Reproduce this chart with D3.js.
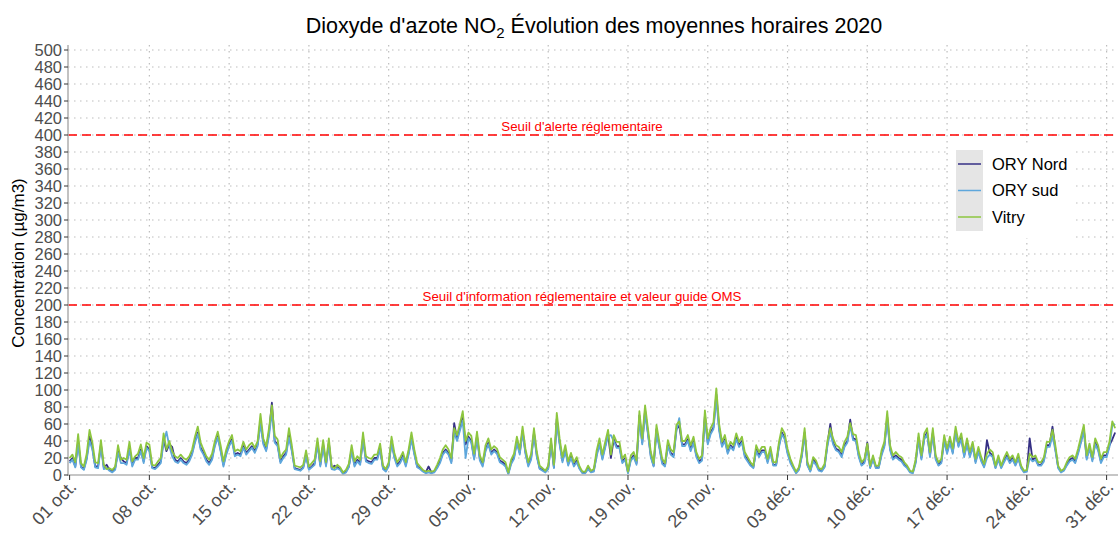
<!DOCTYPE html>
<html>
<head>
<meta charset="utf-8">
<script src="https://cdn.jsdelivr.net/npm/d3@7"></script>
<style>
  body { margin: 0; background: #fff; }
  text { font-family: "Liberation Sans", Arial, sans-serif; }
</style>
</head>
<body>
<div id="chart"></div>
<script>
// valeurs, une valeur toutes les 6 h depuis le 01/10/2020 00h
const seriesNames = ["ORY Nord", "ORY sud", "Vitry"];
const seriesColors = ["#352f84", "#5ea7dc", "#8dc63f"];
const xTickLabels = ["01 oct.", "08 oct.", "15 oct.", "22 oct.", "29 oct.", "05 nov.", "12 nov.",
                     "19 nov.", "26 nov.", "03 déc.", "10 déc.", "17 déc.", "24 déc.", "31 déc."];
const yTickValues = [0, 20, 40, 60, 80, 100, 120, 140, 160, 180, 200, 220, 240, 260, 280, 300,
                     320, 340, 360, 380, 400, 420, 440, 460, 480, 500];
const thresholdValues = [400, 200];
const thresholdLabels = ["Seuil d'alerte réglementaire",
                         "Seuil d'information réglementaire et valeur guide OMS"];

const oryNord = [
  16,20,10,40, 10,7,20,45, 32,10,10,36, 9,12,6,4, 8,28,20,16, 14,32,12,20, 20,30,16,34,
  30,9,8,12, 16,42,28,36, 33,18,16,20, 16,14,18,26, 40,50,32,26, 18,14,20,36, 46,30,12,26,
  36,42,24,26, 24,34,26,30, 34,28,36,64, 38,30,50,85, 40,36,16,22, 26,48,30,8, 7,6,9,24,
  7,10,14,38, 12,36,12,38, 8,11,9,7, 2,4,10,30, 12,18,14,44, 18,16,15,20, 20,32,8,5,
  12,40,22,12, 16,23,12,26, 44,26,10,8, 5,3,10,3, 4,9,16,26, 30,26,16,61, 42,55,68,36,
  45,40,20,46, 19,12,30,38, 26,30,27,17, 15,12,2,15, 21,40,26,52, 27,12,20,50, 23,8,6,4,
  8,38,9,66, 38,17,30,13, 22,12,17,8, 3,3,8,4, 5,24,38,20, 34,48,20,42, 34,34,16,20,
  3,19,23,14, 70,38,76,50, 23,11,54,34, 15,11,36,26, 23,54,58,36, 36,42,30,40, 23,16,19,70,
  38,50,56,95, 55,35,42,27, 35,31,44,35, 40,23,18,12, 9,30,23,29, 29,16,29,12, 12,35,50,44,
  27,16,9,3, 7,23,50,12, 5,18,14,6, 5,10,36,60, 38,31,29,23, 35,40,65,43, 42,23,12,16,
  38,9,20,9, 9,25,35,68, 31,20,23,20, 18,12,9,4, 3,16,44,20, 44,50,23,50, 20,12,16,42,
  27,40,27,52, 35,44,23,38, 23,35,16,29, 18,10,41,26, 23,9,20,9, 17,23,16,20, 12,21,9,4,
  5,43,18,20, 12,12,18,35, 35,57,31,9, 4,6,12,18, 20,16,27,40, 54,20,33,18, 38,31,16,23,
  23,35,42,50
];
const orySud = [
  14,18,9,36, 9,6,18,40, 30,9,8,34, 7,8,5,3, 6,26,14,14, 12,30,10,18, 18,28,14,32,
  28,8,7,10, 14,38,51,34, 22,16,14,18, 14,12,16,24, 38,48,30,24, 16,12,18,34, 44,28,10,24,
  34,40,22,24, 22,32,24,28, 32,26,34,60, 36,28,46,74, 38,34,14,20, 24,44,28,7, 6,5,8,22,
  6,9,12,36, 10,34,10,36, 7,6,8,6, 1,3,9,28, 10,16,12,42, 16,14,13,18, 18,30,7,4,
  10,38,20,10, 14,21,10,24, 42,24,9,7, 4,2,3,2, 3,8,14,24, 28,24,14,50, 40,52,64,20,
  43,38,18,44, 17,10,28,36, 24,28,25,15, 13,10,1,13, 19,38,24,50, 25,10,18,48, 21,7,5,3,
  7,36,8,62, 36,15,28,11, 20,10,15,7, 2,2,7,3, 4,22,36,18, 32,46,47,40, 32,32,14,18,
  2,17,21,12, 66,36,72,48, 21,10,50,32, 13,10,34,24, 21,52,67,34, 34,40,28,38, 21,14,17,66,
  36,48,54,90, 52,33,40,25, 33,29,42,33, 38,21,16,11, 8,28,21,27, 27,14,27,11, 11,33,48,42,
  25,14,8,2, 6,21,48,11, 4,16,12,5, 4,9,34,50, 36,29,27,21, 33,38,58,41, 40,21,11,14,
  30,8,18,8, 8,23,33,64, 29,18,21,18, 16,11,8,3, 2,14,42,18, 42,48,21,48, 18,11,14,40,
  25,38,25,50, 33,42,21,36, 21,33,14,27, 16,9,20,24, 21,8,18,8, 15,21,14,18, 11,19,8,3,
  4,20,16,18, 11,11,16,33, 33,46,29,8, 3,5,11,16, 18,14,25,38, 52,18,31,16, 36,29,14,21,
  21,33,58,60
];
const vitry = [
  20,24,15,48, 14,10,25,53, 38,15,14,41, 12,7,8,6, 10,35,18,20, 18,39,16,22, 25,36,20,38,
  36,12,11,16, 20,49,30,40, 28,22,20,24, 20,18,22,30, 45,57,38,30, 22,18,25,40, 51,35,16,30,
  40,47,28,30, 28,39,30,35, 38,32,40,72, 43,34,55,82, 46,42,20,26, 30,55,35,11, 10,9,12,29,
  10,14,18,43, 16,41,15,43, 10,8,12,9, 3,6,13,35, 16,22,18,50, 22,20,19,24, 24,37,11,7,
  15,45,26,15, 20,27,15,30, 50,30,14,10, 6,4,5,4, 5,12,20,30, 35,30,20,55, 47,60,75,40,
  50,46,25,51, 23,15,35,43, 30,34,31,21, 18,15,3,18, 25,45,30,57, 31,15,25,55, 27,11,8,5,
  11,43,12,73, 43,21,35,16, 26,15,21,10, 4,4,11,5, 7,29,43,24, 39,53,24,47, 39,39,19,24,
  4,23,27,17, 75,43,82,55, 27,14,59,39, 19,14,41,30, 27,59,63,40, 40,47,35,45, 27,19,23,76,
  43,55,62,102, 60,39,47,31, 39,35,49,39, 45,27,21,15, 11,35,27,33, 33,19,33,15, 15,39,55,49,
  31,19,11,4, 9,27,55,15, 7,21,17,8, 7,13,40,55, 43,35,33,27, 39,45,61,48, 47,27,15,19,
  37,11,23,11, 11,29,39,75, 35,23,27,23, 21,15,11,5, 4,19,49,23, 49,55,27,55, 23,15,19,47,
  31,45,31,57, 39,49,27,43, 27,39,19,33, 21,13,25,30, 27,11,23,11, 20,27,19,23, 15,25,11,5,
  6,25,21,23, 15,15,21,39, 39,53,35,11, 5,7,15,21, 23,19,31,45, 59,23,37,21, 43,35,19,27,
  27,39,63,55
];

const W = 1118, H = 535;
const start = new Date(Date.UTC(2020, 9, 1));
const end = new Date(Date.UTC(2021, 0, 1));
const stepMs = 6 * 3600 * 1000;
const dayMs = 24 * 3600 * 1000;

const x = d3.scaleUtc().domain([start, end]).range([69.6, 1118]);
const y = d3.scaleLinear().domain([0, 500]).range([475, 50]);

const svg = d3.select("#chart").append("svg")
    .attr("width", W)
    .attr("height", H);

const tickDates = xTickLabels.map((l, i) => new Date(start.getTime() + i * 7 * dayMs));

// grille pointillee
const grid = svg.append("g")
    .attr("stroke", "#bdbdbd")
    .attr("stroke-width", 1.2)
    .attr("stroke-dasharray", "1.5,4.5");
grid.selectAll(".hg")
    .data(yTickValues.filter(v => v > 0))
    .enter().append("line")
    .attr("x1", 68).attr("x2", W)
    .attr("y1", d => y(d)).attr("y2", d => y(d));
grid.selectAll(".vg")
    .data(tickDates.slice(1))
    .enter().append("line")
    .attr("x1", d => x(d)).attr("x2", d => x(d))
    .attr("y1", 45).attr("y2", 475);

// seuils
thresholdValues.forEach(function (v, i) {
    svg.append("line")
        .attr("x1", 68).attr("x2", W)
        .attr("y1", y(v)).attr("y2", y(v))
        .attr("stroke", "#ff0000")
        .attr("stroke-width", 1.4)
        .attr("stroke-dasharray", "9,5");
    svg.append("text")
        .attr("x", 582).attr("y", y(v) - 4)
        .attr("text-anchor", "middle")
        .attr("font-size", 13.3)
        .attr("fill", "#ff0000")
        .text(thresholdLabels[i]);
});

// series
const allSeries = [oryNord, orySud, vitry];
const line = d3.line()
    .x((d, i) => x(new Date(start.getTime() + i * stepMs)))
    .y(d => y(d));
allSeries.forEach(function (s, k) {
    svg.append("path")
        .datum(s)
        .attr("fill", "none")
        .attr("stroke", seriesColors[k])
        .attr("stroke-width", 1.8)
        .attr("stroke-linejoin", "round")
        .attr("d", line);
});

// axes
svg.append("line")
    .attr("x1", 68).attr("x2", 68).attr("y1", 45).attr("y2", 476)
    .attr("stroke", "#b3b3b3").attr("stroke-width", 1.6);
svg.append("line")
    .attr("x1", 68).attr("x2", W).attr("y1", 475).attr("y2", 475)
    .attr("stroke", "#b3b3b3").attr("stroke-width", 1.6);

const yAxis = svg.append("g");
yAxis.selectAll("line")
    .data(yTickValues)
    .enter().append("line")
    .attr("x1", 64).attr("x2", 68)
    .attr("y1", d => y(d)).attr("y2", d => y(d))
    .attr("stroke", "#333");
yAxis.selectAll("text")
    .data(yTickValues)
    .enter().append("text")
    .attr("x", 62).attr("y", d => y(d))
    .attr("dy", "0.36em")
    .attr("text-anchor", "end")
    .attr("font-size", 16.5)
    .attr("fill", "#4d4d4d")
    .text(d => d);

const xAxis = svg.append("g");
xAxis.selectAll("line")
    .data(tickDates)
    .enter().append("line")
    .attr("x1", d => x(d)).attr("x2", d => x(d))
    .attr("y1", 475).attr("y2", 480)
    .attr("stroke", "#333");
xAxis.selectAll("text")
    .data(tickDates)
    .enter().append("text")
    .attr("transform", d => "translate(" + (x(d) + 8) + ",488) rotate(-45)")
    .attr("text-anchor", "end")
    .attr("font-size", 18)
    .attr("fill", "#4d4d4d")
    .text((d, i) => xTickLabels[i]);

// titres
const title = svg.append("text")
    .attr("x", 594).attr("y", 33)
    .attr("text-anchor", "middle")
    .attr("font-size", 21.5)
    .attr("fill", "#000");
title.append("tspan").text("Dioxyde d'azote NO");
title.append("tspan").attr("font-size", 15).attr("dy", 5).text("2");
title.append("tspan").attr("dy", -5).text(" Évolution des moyennes horaires 2020");

svg.append("text")
    .attr("transform", "translate(24,263) rotate(-90)")
    .attr("text-anchor", "middle")
    .attr("font-size", 17)
    .attr("fill", "#000")
    .text("Concentration (µg/m3)");

// legende
const legend = svg.append("g");
legend.append("rect")
    .attr("x", 949).attr("y", 144).attr("width", 123).attr("height", 94)
    .attr("fill", "#fff");
legend.append("rect")
    .attr("x", 956).attr("y", 150).attr("width", 27).attr("height", 81)
    .attr("fill", "#e5e5e5");
seriesNames.forEach(function (n, k) {
    const cy = 164 + k * 26.5;
    legend.append("line")
        .attr("x1", 958).attr("x2", 981)
        .attr("y1", cy).attr("y2", cy)
        .attr("stroke", seriesColors[k])
        .attr("stroke-width", 1.5);
    legend.append("text")
        .attr("x", 992).attr("y", cy)
        .attr("dy", "0.36em")
        .attr("font-size", 16.5)
        .attr("fill", "#000")
        .text(n);
});
</script>
</body>
</html>
